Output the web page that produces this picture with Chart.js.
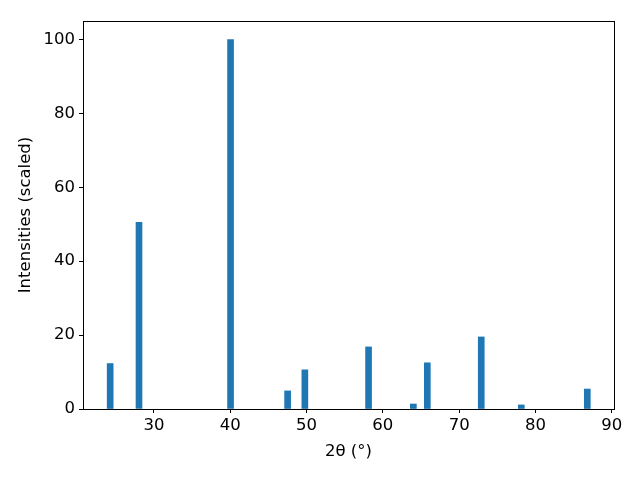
<!DOCTYPE html>
<html>
<head>
<meta charset="utf-8">
<script src="https://cdn.jsdelivr.net/npm/chart.js@4/dist/chart.umd.min.js"></script>
<style>
  html, body { margin: 0; padding: 0; background: #fff; }
  #wrap { width: 640px; height: 480px; }
</style>
</head>
<body>
<div id="wrap"><canvas id="xrdChart" width="640" height="480"></canvas></div>
<script>
// peak positions (2theta, degrees) and scaled intensities
const twoTheta = [24.26, 28.04, 40.04, 47.52, 49.78, 58.13, 64.0, 65.83, 72.9, 78.15, 86.8];
const intensities = [12.3, 50.5, 100, 4.9, 10.6, 16.8, 1.35, 12.5, 19.5, 1.1, 5.4];
const xTicks = [30, 40, 50, 60, 70, 80, 90];
const yTicks = [0, 20, 40, 60, 80, 100];

const tickFont = { family: "'DejaVu Sans', sans-serif", size: 16.5 };

// draw the full box round the plot area, like matplotlib
const frameBox = {
    id: "frameBox",
    afterDraw(chart) {
        const a = chart.chartArea;
        const c = chart.ctx;
        c.save();
        c.strokeStyle = "#000";
        c.lineWidth = 1;
        c.strokeRect(Math.round(a.left) + 0.5, Math.round(a.top) + 0.5,
            Math.round(a.right - a.left), Math.round(a.bottom - a.top));
        c.restore();
    }
};

const ctx = document.getElementById("xrdChart").getContext("2d");

new Chart(ctx, {
    type: "bar",
    data: {
        datasets: [{
            data: twoTheta.map((x, i) => ({ x: x, y: intensities[i] })),
            backgroundColor: "#1f77b4",
            borderWidth: 0,
            barThickness: 6,
        }],
    },
    options: {
        responsive: false,
        animation: false,
        layout: { padding: { top: 21, right: 26, left: 16, bottom: 18 } },
        plugins: {
            legend: { display: false },
            tooltip: { enabled: false },
        },
        scales: {
            x: {
                type: "linear",
                offset: false,
                min: 20.7,
                max: 90.3,
                afterBuildTicks: (s) => { s.ticks = xTicks.map(v => ({ value: v })); },
                afterFit: (s) => { s.height = 53; },
                grid: { offset: false, drawOnChartArea: false, tickLength: 4, tickColor: "#000", color: "#000" },
                border: { color: "#000" },
                ticks: { color: "#000", font: tickFont, padding: 3, maxRotation: 0 },
                title: {
                    display: true,
                    text: "2θ (°)",
                    color: "#000",
                    font: tickFont,
                    padding: { top: 4, bottom: 0 },
                },
            },
            y: {
                min: 0,
                max: 105,
                afterBuildTicks: (s) => { s.ticks = yTicks.map(v => ({ value: v })); },
                afterFit: (s) => { s.width = 67; },
                grid: { drawOnChartArea: false, tickLength: 4, tickColor: "#000", color: "#000" },
                border: { color: "#000" },
                ticks: { color: "#000", font: tickFont, padding: 4 },
                title: {
                    display: true,
                    text: "Intensities (scaled)",
                    color: "#000",
                    font: tickFont,
                    padding: { top: 0, bottom: 6 },
                },
            },
        },
    },
    plugins: [frameBox],
});
</script>
</body>
</html>
